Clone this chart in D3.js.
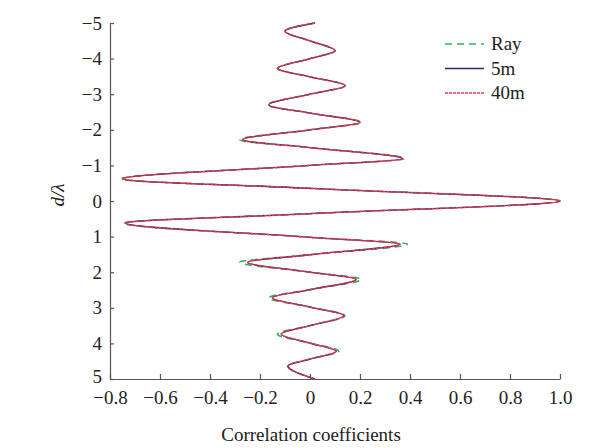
<!DOCTYPE html>
<html>
<head>
<meta charset="utf-8">
<script src="https://cdn.jsdelivr.net/npm/d3@7"></script>
<style>
  body { margin: 0; background: #fff; }
  text { font-family: "Liberation Serif", "Times New Roman", serif; fill: #222; }
</style>
</head>
<body>
<div id="chart"></div>
<script>
// d/lambda sample positions (extrema and zero crossings)
const dLambda = [-5.00, -4.77, -4.50, -4.22, -4.00, -3.72, -3.49, -3.24, -3.00, -2.70, -2.47,
  -2.21, -2.00, -1.72, -1.50, -1.19, -1.00, -0.62, -0.355, 0.00, 0.356, 0.62, 1.02, 1.21,
  1.51, 1.72, 2.00, 2.20, 2.49, 2.72, 2.98, 3.22, 3.50, 3.74, 3.99, 4.22, 4.44, 4.63, 5.00];

const corr5m = [0.02, -0.10, 0, 0.10, 0, -0.13, 0, 0.14, 0, -0.165, 0,
  0.20, 0, -0.27, 0, 0.37, 0, -0.75, 0, 1.00, 0, -0.74, 0, 0.36,
  0, -0.25, 0, 0.185, 0, -0.15, 0, 0.135, 0, -0.115, 0, 0.105, 0, -0.088, 0.02];

const corr40m = [0.02, -0.10, 0, 0.10, 0, -0.13, 0, 0.14, 0, -0.165, 0,
  0.20, 0, -0.27, 0, 0.37, 0, -0.75, 0, 1.00, 0, -0.74, 0, 0.36,
  0, -0.25, 0, 0.185, 0, -0.15, 0, 0.135, 0, -0.115, 0, 0.105, 0, -0.088, 0.02];

const corrRay = [0.02, -0.10, 0, 0.10, 0, -0.13, 0, 0.14, 0, -0.17, 0,
  0.205, 0, -0.28, 0, 0.38, 0, -0.755, 0, 1.00, 0, -0.745, 0, 0.39,
  0, -0.28, 0, 0.205, 0, -0.165, 0, 0.14, 0, -0.13, 0, 0.115, 0, -0.09, 0.02];

const xTicks = [-0.8, -0.6, -0.4, -0.2, 0, 0.2, 0.4, 0.6, 0.8, 1.0];
const yTicks = [-5, -4, -3, -2, -1, 0, 1, 2, 3, 4, 5];

const series = [
  {name: "Ray", values: corrRay, color: "#3daa5c", dash: "7,5", width: 1.6},
  {name: "5m", values: corr5m, color: "#2a2a70", dash: null, width: 1.3},
  {name: "40m", values: corr40m, color: "#e8384a", dash: "3,1", width: 1.5}
];

const width = 613, height = 448;
const margin = {left: 110, right: 53, top: 23, bottom: 69};

const svg = d3.select("#chart").append("svg")
    .attr("width", width).attr("height", height);

const x = d3.scaleLinear().domain([-0.8, 1.0]).range([margin.left, width - margin.right]);
const y = d3.scaleLinear().domain([-5, 5]).range([margin.top, height - margin.bottom]);

const fmtX = d => (d < 0 ? "\u2212" : "") + (d === 0 ? "0" : Math.abs(d).toFixed(1));
const fmtY = d => (d < 0 ? "\u2212" : "") + Math.abs(d);

// axes with ticks pointing inward
const xAxis = svg.append("g")
    .attr("transform", `translate(0,${y(5)})`)
    .call(d3.axisBottom(x).tickValues(xTicks).tickFormat(fmtX).tickSizeInner(-5).tickSizeOuter(0).tickPadding(12));
const yAxis = svg.append("g")
    .attr("transform", `translate(${x(-0.8)},0)`)
    .call(d3.axisLeft(y).tickValues(yTicks).tickFormat(fmtY).tickSizeInner(-4).tickSizeOuter(0).tickPadding(8));

[xAxis, yAxis].forEach(a => {
    a.select(".domain").attr("stroke", "#555").attr("stroke-width", 1.2);
    a.selectAll(".tick line").attr("stroke", "#555").attr("stroke-width", 1.2);
    a.selectAll(".tick text").style("font-size", "19px").attr("fill", "#222");
});
// last y label sits just above the x labels, as in the figure
yAxis.selectAll(".tick text").filter(d => d === 5).attr("dy", "0.2em");

const line = d3.line()
    .x(d => x(d[1]))
    .y(d => y(d[0]))
    .curve(d3.curveMonotoneY);

series.forEach(s => {
    svg.append("path")
        .datum(dLambda.map((d, i) => [d, s.values[i]]))
        .attr("fill", "none")
        .attr("stroke", s.color)
        .attr("stroke-width", s.width)
        .attr("stroke-dasharray", s.dash)
        .attr("d", line);
});

// legend
const legend = svg.append("g").attr("transform", "translate(445,44)");
series.forEach((s, i) => {
    const g = legend.append("g").attr("transform", `translate(0,${i * 24.5})`);
    g.append("line")
        .attr("x1", 0).attr("x2", 39).attr("y1", 0).attr("y2", 0)
        .attr("stroke", s.color).attr("stroke-width", s.width)
        .attr("stroke-dasharray", s.dash);
    g.append("text")
        .attr("x", 46).attr("y", 6)
        .style("font-size", "19px")
        .text(s.name);
});

// axis titles
svg.append("text")
    .attr("x", 311).attr("y", 441)
    .attr("text-anchor", "middle")
    .style("font-size", "19px")
    .text("Correlation coefficients");

svg.append("text")
    .attr("transform", `translate(64,${y(0) - 6}) rotate(-90)`)
    .attr("text-anchor", "middle")
    .style("font-size", "19px")
    .style("font-style", "italic")
    .text("d/\u03bb");
</script>
</body>
</html>
